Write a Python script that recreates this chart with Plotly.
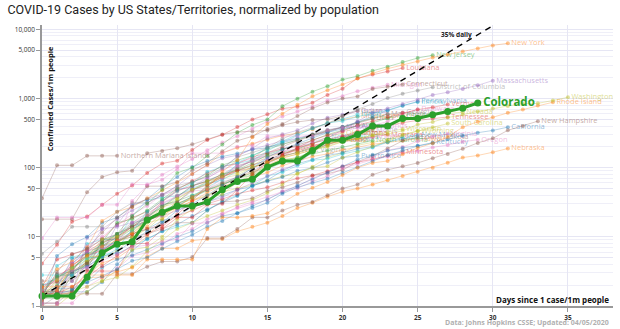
import plotly.graph_objects as go

# ---------------- data (cases per 1m people, by days since 1 case/1m) ----------------
new_york = [1.2,1.7,3.9,5.4,7.3,8.9,11.3,16.9,21.6,27,37.6,49.7,87.7,128,276,427,602,812,1074,1320,1586,1947,2307,2695,3067,3427,3899,4316,4756,5295,5853,6274]
washington = [1.4,2.4,3.5,5.1,9.2,10,13,16,18,35,48,58,75,84,101,119,141,156,181,200,236,263,292,306,341,422,457,530,587,648,715,780,840,850,935,1040]
rhode_island = [1.9,1.9,1.9,2.8,2.8,2.8,2.8,4.7,4.7,4.7,4.7,13,19,19,20,22,31,42,51,62,78,100,117,125,156,192,226,278,385,461,534,620,690,790,882]
new_hampshire = [1.5,1.5,1.5,1.5,1.5,2.9,2.9,3.7,4.4,4.4,5.1,9.6,9.6,13,19,19,24,29,32,40,50,57,79,93,105,117,137,158,187,228,265,346,400,470]
california = [1.3,1.5,1.7,2.2,2.7,3.4,4.5,5,6.7,8.6,10.7,14,17,22,26,31,42,52,60,69,84,101,124,151,178,205,226,258,290,320,345,385]
nebraska = [1.5,1.5,1.5,2.6,2.6,3.1,3.6,5.2,6.8,6.8,8.8,9.3,9.3,12,14,16,20,26,31,38,45,50,57,66,76,87,100,118,140,150,167,189]
massachusetts = [1.2,1.9,4.1,6,13,14,16,18,20,24,29,32,37,48,60,76,94,113,168,267,351,470,618,719,835,961,1123,1230,1370,1550,1810]
oregon = [1.7,1.7,3.3,3.6,4.5,5.7,7.1,7.6,8.5,9.2,15.6,16,21,27,32,38,45,50,63,75,98,113,130,144,163,174,196,213,237,253]
vermont = [1.6,1.6,1.6,3.2,3.2,3.2,8,8,13,19,19,29,30,48,80,120,152,193,250,293,337,411,469,541,615,690,745,820]
new_jersey = [1.7,2.6,3.3,5.6,7.8,11,20,30,48,84,100,149,216,320,414,496,774,994,1253,1507,1873,2105,2506,2882,3366,3843,4224]
louisiana = [4.1,7.7,16.5,19.6,29,42,55,84,115,126,180,252,298,386,496,590,713,761,866,1126,1381,1968,2214,2460,2750]
connecticut = [1.4,3.1,5.6,6.7,11.5,19,27,54,54,62,92,116,173,245,283,362,427,558,720,876,996,1071,1376,1478,1590]
michigan = [1.6,2.5,3.3,5.3,6.5,8.3,33,55,79,104,133,179,230,285,366,465,549,650,762,934,1080,1276,1424,1573]
district_of_columbia = [5.7,8.5,14,14,14,23,31,31,40,55,62,75,99,142,164,193,261,324,378,431,561,697,835,1016,1170,1300,1450]
pennsylvania = [1.25,1.7,3.2,3.7,5.2,6,8.7,12,16,24,30,40,55,74,98,140,183,222,268,325,388,453,548,669,783,905]
delaware = [1,1,4.1,6.2,7.2,8.2,16,20,31,39,46,48,70,107,123,134,168,220,239,272,329,379,405,464,611,693]
nevada = [1.3,1.3,1.3,1.6,2.3,3.3,6.5,7.1,10,18,25,36,41,62,80,104,133,136,176,205,239,297,360,417,474,518,577,608,634]
tennessee = [1.5,1.5,1.9,2.6,3.8,5.4,7.5,11,14,21,33,56,73,90,99,118,145,190,226,256,287,335,370,410,446,482,512,540]
illinois = [2.0,2.5,3.6,5.0,7.4,8.3,12,23,33,46,59,87,103,118,149,191,241,302,369,441,472,546,609,678,794,888]
georgia = [1.6,2.9,3.1,6.8,9.1,11,15,19,27,40,48,58,76,98,133,200,217,250,278,341,387,458,514,590,626]
guam = [18,18,18,44,73,86,90,162,174,191,217,257,302,327,333,345,411,458,488,500,553,666]
idaho = [2.8,2.8,2.8,5,5,6.7,13,17,23,28,39,51,70,114,129,173,230,291,373,437,504,585]
wisconsin = [1.5,1.7,3.6,4.6,5.5,8.1,12,18,26,36,48,64,71,78,101,121,145,166,193,226,238,264,294,330,363]
south_carolina = [1.4,1.4,1.6,1.9,2.3,2.6,3.7,6.2,9.1,13,16,20,24,29,34,43,57,83,99,105,139,167,205,243,293,337,385,433]
kentucky = [1.3,1.8,1.8,2.2,3.6,4.7,5.4,6.5,8,10,12,16,20,22,28,35,44,55,67,85,104,131,153,175,193,207,230]
minnesota = [1.6,2.5,3.9,5.3,6.4,8.5,11,13,15,20,24,30,35,42,47,52,61,70,77,89,102,120,132,150,169]
puerto_rico = [1.6,1.6,1.6,1.6,2.2,4,6.3,9.4,12,15,20,25,31,39,55,63,73,90,99,119,140,148]
virginia = [1.1,1.1,1.1,1.9,2.6,3.5,5.3,5.9,7.7,11,13,18,22,26,30,34,46,54,70,86,105,119,141,178,198,241,281,309]
florida = [1.6,1.6,3.5,5.2,7.1,10,15,20,27,38,55,64,80,93,117,153,183,212,248,301,347,403,444,519,574]
maryland = [2.0,2.2,3.1,4.3,6.1,9.4,14,17,21,32,48,56,72,96,128,164,199,242,300,333,383,440,504,597]
indiana = [1.2,1.8,2.8,3.7,5.3,8.8,12,19,30,38,54,70,96,146,190,264,303,347,436,528,583,655]
utah = [1.5,2.8,2.8,4.4,8.4,16,18,24,35,50,61,77,109,127,149,185,219,253,298,344,383,442,522]
mississippi = [2.0,3.4,4.4,7,17,23,27,36,47,61,81,109,163,194,222,253,291,315,360,443,495,550]
alabama = [1.2,5.3,7.8,10,16,19,28,35,53,73,102,125,145,160,183,194,229,262,296,322,365,398]
arizona = [1.8,2.7,3.6,6.2,8.2,10,14,20,32,46,55,63,75,91,110,126,160,176,203,236,267,312]
ohio = [1.1,1.1,3.0,4.1,7.4,10,14,17,21,30,38,48,59,74,89,115,146,167,198,230,273,320]
north_carolina = [1.5,2.0,3.1,3.9,6.3,9.2,13,17,24,30,37,47,58,69,84,105,127,141,158,175,200,222,246]
texas = [1.3,2.3,3.2,4.2,5.8,8.2,11,14,22,26,33,44,57,69,86,109,136,158,179,215,251]
missouri = [1.3,1.5,2.3,3.9,5.9,15,29,35,41,54,81,109,137,151,184,213,244,265,304,352,385]
oklahoma = [1.0,1.0,1.5,2.5,4.8,6.3,9.8,13,20,27,37,54,80,91,107,145,163,182,219,279,316]
iowa = [1.3,3.8,5.1,5.7,5.7,5.7,7.3,9.2,12,14,16,24,33,40,55,75,86,107,128,134,157,173,195,233,275]
kansas = [1.0,1.4,3.1,6.2,7.2,11,14,19,22,28,36,49,62,72,99,126,148,165,186,215,257]
arkansas = [2.0,2.3,4.3,7.3,10,15,21,28,41,51,62,72,93,117,136,147,172,188,203,215,241,248,275]
south_dakota = [2.3,2.3,2.3,3.4,9.0,9.0,10,11,13,16,16,24,32,33,36,46,52,61,77,82,92,122,148,189,244,272]
montana = [1.9,4.7,5.6,6.5,9.3,15,19,23,33,48,64,83,104,114,143,162,188,200,212,226,246,261,278,298]
wyoming = [1.7,1.7,1.7,5.2,5.2,8.6,10,19,27,31,34,40,45,50,56,65,75,81,103,141,163,210,230,256,300,340]
new_mexico = [1.4,1.9,4.8,5.7,6.7,8.6,11,13,17,20,27,31,40,48,54,66,90,114,130,150,164,187,201,237,259,297]
hawaii = [1.4,1.4,1.4,2.8,4.2,4.9,7.0,10,18,26,33,39,54,63,74,85,107,123,145,158,181,197,218,231,246,262]
alaska = [1.4,1.4,2.7,4.1,8.2,11,14,19,29,33,40,48,56,70,78,97,117,139,175,216,253]
maine = [1.5,1.5,1.5,9.7,13,18,24,31,40,48,53,66,79,102,124,158,189,207,224,257,281,322,351]
north_dakota = [1.3,1.3,3.9,7.9,9.2,9.2,20,34,37,39,51,59,66,90,108,129,155,187,227,272]
west_virginia = [1.1,1.1,1.7,4.5,8.9,11,16,22,29,32,46,63,81,106,123,147,169,181]
virgin_islands = [9.5,19,19,19,29,29,57,57,67,95,162,162,162,200,210,286,286,286,286,343,381,400]
northern_mariana = [36,108,108,148,148,148]
colorado = [1.4,1.4,1.4,2.6,5.9,7.8,8.5,17.5,22.7,27.8,27.8,32,48,63,68,102,125,125,177,249,249,301,401,401,515,515,580,647,724,859]

# 35% daily growth reference (end points)
ref_days = [0, 30]
ref_vals = [1.39, 11250]
ref_label_day = [28.6]
ref_label_val = [8300]

palette = {
    "blue": "31,119,180", "orange": "255,127,14", "green": "44,160,44", "red": "214,39,40",
    "purple": "148,103,189", "brown": "140,86,75", "pink": "227,119,194", "gray": "127,127,127",
    "olive": "188,189,34", "cyan": "23,190,207",
}

series = [
    ("Wyoming", wyoming, "olive"), ("West Virginia", west_virginia, "gray"),
    ("North Dakota", north_dakota, "cyan"), ("Maine", maine, "purple"),
    ("Alaska", alaska, "green"), ("Hawaii", hawaii, "orange"),
    ("New Mexico", new_mexico, "blue"), ("Montana", montana, "red"),
    ("South Dakota", south_dakota, "brown"), ("Arkansas", arkansas, "pink"),
    ("Kansas", kansas, "gray"), ("Iowa", iowa, "cyan"), ("Oklahoma", oklahoma, "olive"),
    ("Missouri", missouri, "purple"), ("Texas", texas, "orange"),
    ("North Carolina", north_carolina, "green"), ("Ohio", ohio, "brown"),
    ("Arizona", arizona, "red"), ("Alabama", alabama, "blue"),
    ("Mississippi", mississippi, "orange"), ("Utah", utah, "green"),
    ("Indiana", indiana, "purple"), ("Maryland", maryland, "brown"),
    ("Florida", florida, "green"), ("Virginia", virginia, "pink"),
    ("Puerto Rico", puerto_rico, "blue"), ("Minnesota", minnesota, "red"),
    ("Kentucky", kentucky, "blue"), ("South Carolina", south_carolina, "olive"),
    ("Wisconsin", wisconsin, "olive"), ("Idaho", idaho, "cyan"),
    ("Guam", guam, "brown"), ("Georgia", georgia, "gray"),
    ("Illinois", illinois, "cyan"), ("Tennessee", tennessee, "red"),
    ("Nevada", nevada, "olive"), ("Delaware", delaware, "pink"),
    ("Pennsylvania", pennsylvania, "blue"), ("District of Columbia", district_of_columbia, "gray"),
    ("Michigan", michigan, "pink"), ("Connecticut", connecticut, "brown"),
    ("Louisiana", louisiana, "red"), ("New Jersey", new_jersey, "green"),
    ("Vermont", vermont, "red"), ("Oregon", oregon, "pink"),
    ("Massachusetts", massachusetts, "purple"), ("Nebraska", nebraska, "orange"),
    ("California", california, "blue"), ("New Hampshire", new_hampshire, "brown"),
    ("Rhode Island", rhode_island, "orange"), ("Washington", washington, "olive"),
    ("New York", new_york, "orange"), ("Virgin Islands", virgin_islands, "pink"),
    ("Northern Mariana Islands", northern_mariana, "brown"),
]

y_tickvals = [1, 5, 10, 50, 100, 500, 1000, 5000, 10000]
y_ticktext = ["1", "5", "10", "50", "100", "500", "1,000", "5,000", "10,000"]
y_minor = [d * 10 ** k for k in range(4) for d in range(2, 10)]

LABEL_FONT = "Open Sans"

fig = go.Figure()

for name, vals, cname in series:
    rgb = palette[cname]
    n = len(vals)
    fig.add_trace(go.Scatter(
        x=list(range(n)), y=vals,
        mode="lines+markers+text",
        line=dict(color=f"rgba({rgb},0.3)", width=1),
        marker=dict(color=f"rgba({rgb},0.45)", size=4),
        text=[""] * (n - 1) + [name],
        textposition="middle right",
        textfont=dict(family=LABEL_FONT, size=7.5, color=f"rgba({rgb},0.5)"),
        hoverinfo="skip", showlegend=False, cliponaxis=False,
    ))

# reference line
fig.add_trace(go.Scatter(
    x=ref_days, y=ref_vals, mode="lines",
    line=dict(color="black", width=1.4, dash="6px,5px"),
    hoverinfo="skip", showlegend=False,
))
fig.add_trace(go.Scatter(
    x=ref_label_day, y=ref_label_val, mode="text", text=["35% daily"],
    textposition="middle left",
    textfont=dict(family=LABEL_FONT, size=6.5, color="#222", weight="bold"),
    hoverinfo="skip", showlegend=False,
))

# highlighted Colorado
n = len(colorado)
fig.add_trace(go.Scatter(
    x=list(range(n)), y=colorado, mode="lines+markers+text",
    line=dict(color="#2ca02c", width=3),
    marker=dict(color="#2ca02c", size=7),
    text=[""] * (n - 1) + ["Colorado"],
    textposition="middle right",
    textfont=dict(family=LABEL_FONT, size=11.5, color="#2ca02c", weight="bold"),
    hoverinfo="skip", showlegend=False, cliponaxis=False,
))

grid = "#e6e6f4"
fig.update_layout(
    width=620, height=329,
    margin=dict(l=42, r=7, t=25, b=21),
    paper_bgcolor="white", plot_bgcolor="white",
    title=dict(
        text="COVID-19 Cases by US States/Territories, normalized by population",
        x=0.012, xanchor="left", y=0.985, yanchor="top",
        font=dict(family="Roboto", size=12.5, color="#222"),
    ),
    xaxis=dict(
        range=[0, 38], tick0=0, dtick=5, showgrid=True, gridcolor=grid, gridwidth=1,
        zeroline=False, showline=True, linecolor="#999", linewidth=1.5,
        ticks="outside", ticklen=4, tickcolor="#999",
        tickfont=dict(family=LABEL_FONT, size=6.5, color="#333", weight="bold"),
    ),
    yaxis=dict(
        type="log", range=[0, 4.062], tickvals=y_tickvals, ticktext=y_ticktext,
        showgrid=True, gridcolor=grid, gridwidth=1,
        minor=dict(tickvals=y_minor, showgrid=True, gridcolor="#efeff8", ticks=""),
        zeroline=False, showline=True, linecolor="#999", linewidth=1.5,
        ticks="outside", ticklen=4, tickcolor="#999",
        tickfont=dict(family=LABEL_FONT, size=6.5, color="#333"),
    ),
    annotations=[
        dict(text="<b>Confirmed Cases/1m people</b>", xref="paper", yref="paper",
             x=0, y=0.93, xanchor="left", yanchor="top", xshift=1, textangle=-90,
             showarrow=False, font=dict(family=LABEL_FONT, size=7.5, color="#111")),
        dict(text="<b>Days since 1 case/1m people</b>", xref="paper", yref="paper",
             x=1, y=0, xanchor="right", yanchor="bottom", xshift=-2, yshift=-1,
             showarrow=False, font=dict(family=LABEL_FONT, size=8, color="#111")),
        dict(text="<b>Data: Johns Hopkins CSSE; Updated: 04/05/2020</b>", xref="paper", yref="paper",
             x=1, y=0, xanchor="right", yanchor="top", xshift=-2, yshift=-10,
             showarrow=False, font=dict(family=LABEL_FONT, size=7, color="#b0b0b0")),
    ],
)

fig.write_html("out.html")
